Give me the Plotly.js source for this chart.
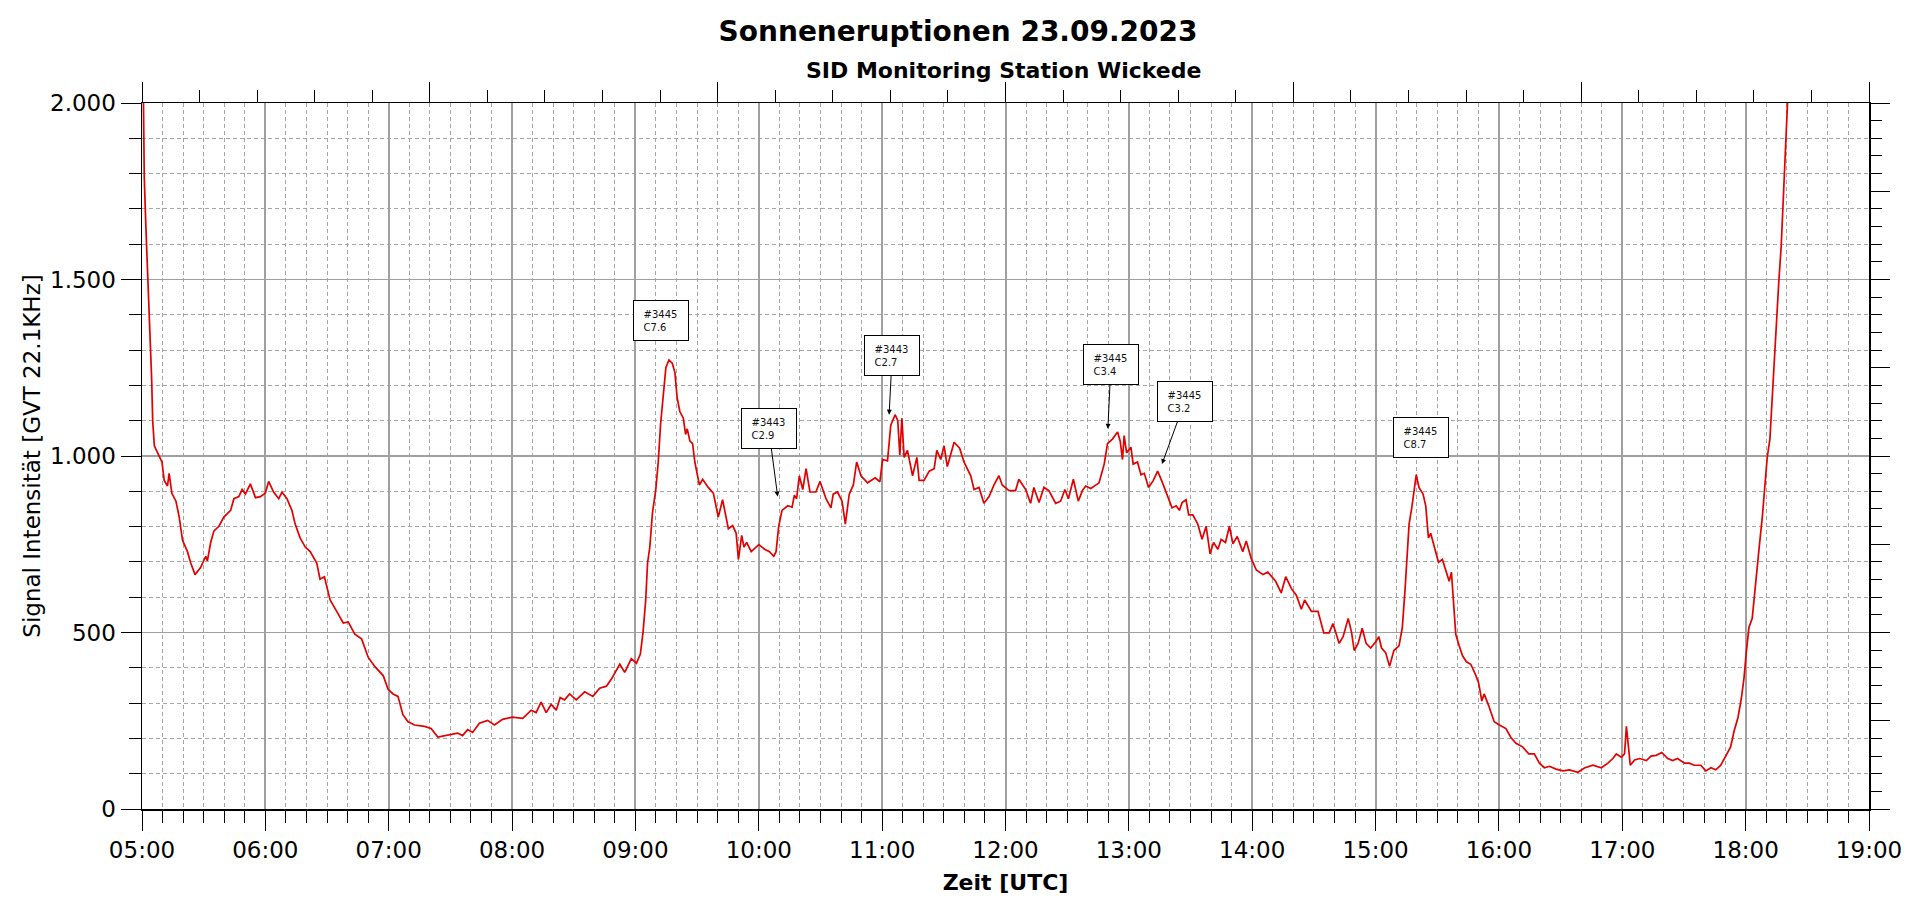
<!DOCTYPE html>
<html>
<head>
<meta charset="utf-8">
<script src="https://cdn.plot.ly/plotly-3.0.1.min.js"></script>
<style>
  html, body { margin: 0; padding: 0; background: #fff; }
  #sid { width: 1920px; height: 904px; }
</style>
</head>
<body>
<div id="sid"></div>
<script>
// Minuten nach 05:00 UTC und Signalwerte
var minuten = [
  0, 0.6, 1.1, 1.9, 2.7, 3.5, 4.0, 4.7, 5.2, 6.0, 7.6, 9.7, 10.8, 12.4, 13.2, 14.5, 16.5, 18.1, 19.7, 22.1,
  23.7, 25.8, 28.5, 31.0, 31.8, 33.4, 35.0, 37.4, 39.8, 43.1, 44.7, 47.1, 48.7, 50.3, 52.7, 55.2, 57.6, 60.0, 61.6, 64.0,
  66.5, 68.1, 70.5, 72.9, 74.5, 76.9, 79.4, 81.8, 85.0, 86.6, 88.7, 91.5, 94.7, 97.9, 100.3, 103.5, 106.8, 110.0, 113.2, 117.3,
  119.7, 122.1, 124.5, 126.9, 129.4, 132.6, 137.4, 140.6, 143.9, 147.1,
  149.4, 153.5, 155.9, 158.4, 160.8, 164.1, 168.1, 171.4, 175.4, 180, 185.2, 189.3, 191.7, 194.1, 196.6, 199.0, 201.5, 203.4, 205.5, 208.0,
  211.2, 215.3, 219.3, 222.6, 225.9, 228.3, 232.4, 234.8, 238.0, 240.5, 242.4, 243.7, 245.0, 245.9, 247.0, 248.3, 249.9, 251.1, 252.2, 253.5,
  254.8, 256.3, 257.9, 259.2, 260.3, 261.6, 263.3, 264.4, 265.2, 266.5, 267.8, 268.9, 271.1, 272.7, 275.4, 277.9, 280.3, 282.4, 285.2, 287.3,
  289.0, 290.1, 291.7, 292.8, 294.1,
  296.3, 300, 302.8, 305.2, 307.3, 308.4, 309.7, 311.3, 314.1, 316.2, 317.3, 318.4, 319.7, 321.4, 323.0, 324.9, 327.8, 329.8, 332.7, 335.1,
  336.2, 338.3, 340.5, 342.1, 344.0, 346.0, 347.6, 349.7, 352.9, 356.6, 358.9, 360.2, 362.6, 364.2, 366.3, 367.6, 368.6, 369.6, 370.7, 372.3,
  374.8, 376.9, 378.0, 380.4, 382.9, 385.3, 386.6, 388.5, 390.1, 391.7, 395.0, 397.7, 399.8, 403.1, 404.7, 407.1, 409.5, 412.0, 414.4, 416.8,
  418.4, 421.7, 424.9, 426.5, 429.8, 432.2, 433.8,
  436.3, 438.7, 441.1, 444.4, 446.8, 448.9, 450.6, 453.0, 455.4, 457.4, 459.0, 461.5, 465.5, 468.0, 469.6, 472.0, 474.5, 475.8, 476.9, 477.7,
  478.9, 481.0, 482.1, 484.2, 485.9, 487.5, 489.6, 491.9, 494.0, 496.1, 498.9, 501.0, 503.0, 504.6, 505.9, 507.8, 509.1, 511.1, 513.5, 515.6,
  517.6, 519.5, 521.2, 523.3, 524.9, 527.0, 528.9, 530.6, 532.7, 535.4, 537.1, 539.5, 542.0, 545.2, 547.6, 551.4, 554.1, 556.3, 559.0, 561.5,
  563.9, 565.5, 568.8, 572.0, 574.8, 577.4, 579.3, 582.3, 584.2,
  586.7, 588.3, 589.6, 591.5, 593.5, 595.4, 597.6, 600, 601.6, 602.9, 604.9, 606.8, 608.9, 611.4, 613.0, 614.3, 615.1, 616.3, 617.6, 618.7,
  619.8, 621.1, 623.1, 624.4, 625.7, 626.8, 628.5, 630.6, 632.5, 634.1, 635.8, 636.9, 637.7, 639.0, 640.7, 642.3, 644.2, 646.3, 648.5, 650.1,
  651.7, 652.8, 655.0, 657.7, 660.2, 663.4, 665.9, 668.3, 671.5, 674.5, 677.2, 679.7, 682.1, 684.6, 687.8, 691.1, 694.3, 698.4, 701.6, 705.7,
  709.8, 713.0, 715.4, 717.1, 719.5, 721.1, 722.0, 722.9, 723.9, 726.0, 728.5, 731.7,
  734.0, 736.5, 739.2, 742.1, 744.5, 746.9, 750.2, 752.6, 755.0, 758.2, 760.6, 763.1, 765.5, 767.9, 770.3, 772.7, 774.4, 776.3, 777.9, 779.2,
  780.3, 781.6, 783.2, 784.8, 786.5, 788.1, 789.2, 790.5, 791.8, 792.9, 793.7, 794.8, 796.1, 797.3, 798.2, 799.0, 799.8, 800.5, 801.5
];
var signal = [
  2400, 2000, 1790, 1647, 1530, 1426, 1322, 1217, 1100, 1029, 1009, 983, 931, 915, 951, 895, 872, 827, 762, 729,
  697, 664, 684, 716, 703, 755, 788, 801, 827, 846, 879, 885, 905, 892, 921, 882, 885, 895, 928, 898,
  879, 898, 879, 846, 807, 768, 742, 729, 697, 651, 658, 592, 560, 527, 530, 495, 482, 430, 404, 378,
  339, 326, 319, 267, 247, 238, 234, 228, 204, 208,
  211, 215, 208, 225, 217, 243, 251, 238, 254, 260, 257, 280, 273, 303, 273, 296, 280, 316, 309, 326,
  309, 332, 319, 342, 348, 368, 410, 387, 426, 413, 439, 501, 592, 697, 742, 840, 905, 983, 1087, 1178,
  1250, 1272, 1263, 1237, 1165, 1126, 1107, 1061, 1077, 1042, 1035, 983, 918, 934, 911, 895, 827, 876, 794, 803,
  781, 707, 775, 742, 755,
  729, 749, 736, 729, 716, 729, 801, 846, 859, 855, 889, 879, 944, 905, 964, 898, 898, 928, 879, 853,
  892, 898, 872, 807, 892, 918, 983, 944, 924, 938, 927, 990, 986, 1087, 1117, 1100, 1003, 1107, 996, 1016,
  944, 996, 931, 931, 957, 964, 1016, 990, 1029, 970, 1039, 1022, 983, 944, 905, 911, 866, 885, 918, 944,
  918, 902, 902, 934, 905, 866, 911,
  868, 911, 902, 866, 872, 905, 879, 934, 872, 902, 915, 908, 924, 977, 1035, 1048, 1068, 1042, 990, 1058,
  1009, 1025, 977, 983, 947, 951, 911, 931, 957, 928, 885, 853, 859, 846, 868, 876, 833, 833, 807, 764,
  801, 723, 755, 736, 764, 755, 801, 751, 772, 729, 759, 710, 677, 664, 671, 645, 612, 658, 625, 605,
  566, 592, 560, 560, 499, 499, 525, 469, 488,
  540, 501, 449, 469, 512, 469, 456, 473, 488, 456, 443, 404, 449, 462, 514, 618, 710, 807, 853, 905,
  947, 911, 892, 859, 768, 781, 742, 699, 707, 677, 645, 671, 592, 495, 462, 434, 417, 410, 382, 358,
  306, 326, 293, 247, 238, 228, 202, 186, 176, 156, 156, 130, 117, 121, 113, 108, 111, 104, 116, 124,
  117, 130, 143, 156, 147, 156, 234, 189, 124, 139, 143, 137,
  150, 152, 160, 143, 137, 143, 130, 130, 124, 124, 108, 117, 111, 124, 150, 176, 221, 260, 313, 371,
  443, 514, 540, 645, 736, 827, 905, 996, 1048, 1165, 1270, 1387, 1491, 1595, 1712, 1829, 1921, 2001, 2150
];

// Flare-Markierungen: Region, Klasse, Zeitpunkt (Minuten nach 05:00), Signal
var flareRegion = ['#3445', '#3443', '#3443', '#3445', '#3445', '#3445'];
var flareKlasse = ['C7.6', 'C2.9', 'C2.7', 'C3.4', 'C3.2', 'C8.7'];
var flareMin = [256.3, 309.2, 363.4, 469.8, 496.1, 619.8];
var flareWert = [1272, 885, 1117, 1077, 977, 947];
// Lage der Kaesten relativ zum Punkt (Pixel), Pfeil ja/nein
var kastenDx = [-8, -9, 3, 3, 23, 5];
var kastenDy = [-39, -68, -59, -64, -63, -37];
var mitPfeil = [false, true, true, true, true, false];

function zeitText(m) {
  var s = Math.round(m * 60);
  var h = 5 + Math.floor(s / 3600);
  var mi = Math.floor((s % 3600) / 60);
  var se = s % 60;
  function zz(n) { return (n < 10 ? '0' : '') + n; }
  return '2023-09-23 ' + zz(h) + ':' + zz(mi) + ':' + zz(se);
}

var zeiten = minuten.map(zeitText);

var schrift = 'DejaVu Sans, Verdana, sans-serif';

var data = [{
  type: 'scatter',
  mode: 'lines',
  x: zeiten,
  y: signal,
  line: { color: 'rgb(226,0,0)', width: 1.7 },
  hoverinfo: 'x+y',
  showlegend: false
}, {
  // nur fuer die obere Achse
  type: 'scatter', mode: 'lines', x: [], y: [], xaxis: 'x2', yaxis: 'y',
  hoverinfo: 'skip', showlegend: false
}, {
  // nur fuer die rechte Achse
  type: 'scatter', mode: 'lines', x: [], y: [], xaxis: 'x', yaxis: 'y2',
  hoverinfo: 'skip', showlegend: false
}];

var notizen = [];
for (var i = 0; i < flareKlasse.length; i++) {
  var txt = '\u00a0\u00a0\u00a0' + flareRegion[i] + '<br>\u00a0\u00a0\u00a0' + flareKlasse[i];
  var a = {
    xref: 'x', yref: 'y',
    x: zeitText(flareMin[i]), y: flareWert[i],
    text: txt,
    font: { family: schrift, size: 10, color: '#111' },
    align: 'left', valign: 'middle',
    width: 54, height: 39,
    bgcolor: '#fff', bordercolor: '#000', borderwidth: 1, borderpad: 0
  };
  if (mitPfeil[i]) {
    a.showarrow = true;
    a.ax = kastenDx[i];
    a.ay = kastenDy[i];
    a.arrowhead = 2;
    a.arrowsize = 1;
    a.arrowwidth = 1;
    a.arrowcolor = '#000';
    a.standoff = 0;
  } else {
    a.showarrow = false;
    a.xshift = kastenDx[i];
    a.yshift = -kastenDy[i];
  }
  notizen.push(a);
}

notizen.push({
  xref: 'paper', yref: 'paper', x: 0.4991, y: 1.0467,
  xanchor: 'center', yanchor: 'middle', showarrow: false,
  text: '<b>SID Monitoring Station Wickede</b>',
  font: { family: schrift, size: 22, color: '#000' }
});

var gitterDash = '4px,3px';

var layout = {
  width: 1920,
  height: 904,
  margin: { l: 142, r: 51, t: 103, b: 95 },
  paper_bgcolor: '#fff',
  plot_bgcolor: '#fff',
  separators: ',.',
  font: { family: schrift, size: 23, color: '#000' },
  title: {
    text: '<b>Sonneneruptionen 23.09.2023</b>',
    font: { family: schrift, size: 28, color: '#000' },
    xref: 'container', x: 0.499, xanchor: 'center',
    yref: 'container', y: 1 - 31 / 904, yanchor: 'middle'
  },
  xaxis: {
    type: 'date',
    range: ['2023-09-23 05:00:00', '2023-09-23 19:00:00'],
    tick0: '2023-09-23 05:00:00',
    dtick: 3600000,
    tickformat: '%H:%M',
    ticks: 'outside', ticklen: 20, tickwidth: 1, tickcolor: '#000',
    showline: true, linecolor: '#000', linewidth: 1.5,
    showgrid: true, gridcolor: '#a0a0a0', gridwidth: 2,
    zeroline: false,
    tickfont: { family: schrift, size: 23, color: '#000' },
    minor: {
      dtick: 600000, ticks: 'outside', ticklen: 12, tickwidth: 1, tickcolor: '#000',
      showgrid: true, gridcolor: '#a6a6a6', gridwidth: 1, griddash: gitterDash
    },
    title: {
      text: '<b>Zeit [UTC]</b>',
      font: { family: schrift, size: 22, color: '#000' },
      standoff: 12
    },
    fixedrange: true
  },
  xaxis2: {
    overlaying: 'x', side: 'top', anchor: 'y',
    range: [0, 30], dtick: 5, tick0: 0,
    ticks: 'outside', ticklen: 20, tickwidth: 1, tickcolor: '#000',
    showticklabels: false, showgrid: false, zeroline: false,
    showline: true, linecolor: '#000', linewidth: 1.5,
    minor: { dtick: 1, ticks: 'outside', ticklen: 12, tickwidth: 1, tickcolor: '#000', showgrid: false },
    fixedrange: true
  },
  yaxis: {
    range: [0, 2000],
    dtick: 500, tick0: 0,
    separatethousands: true,
    ticks: 'outside', ticklen: 20, tickwidth: 1, tickcolor: '#000',
    showline: true, linecolor: '#000', linewidth: 1.5,
    showgrid: true, gridcolor: '#a0a0a0', gridwidth: 1.2,
    zeroline: false,
    tickfont: { family: schrift, size: 23, color: '#000' },
    minor: {
      dtick: 100, ticks: 'outside', ticklen: 12, tickwidth: 1, tickcolor: '#000',
      showgrid: true, gridcolor: '#a6a6a6', gridwidth: 1, griddash: gitterDash
    },
    title: {
      text: 'Signal Intensität [GVT 22.1KHz]',
      font: { family: schrift, size: 23, color: '#000' },
      standoff: 3
    },
    fixedrange: true
  },
  yaxis2: {
    overlaying: 'y', side: 'right', anchor: 'x',
    range: [0, 2000], dtick: 250, tick0: 0,
    ticks: 'outside', ticklen: 19, tickwidth: 1, tickcolor: '#000',
    showticklabels: false, showgrid: false, zeroline: false,
    showline: true, linecolor: '#000', linewidth: 1.5,
    minor: { dtick: 50, ticks: 'outside', ticklen: 11, tickwidth: 1, tickcolor: '#000', showgrid: false },
    fixedrange: true
  },
  annotations: notizen
};

Plotly.newPlot('sid', data, layout, { displayModeBar: false, staticPlot: true });
</script>
</body>
</html>
